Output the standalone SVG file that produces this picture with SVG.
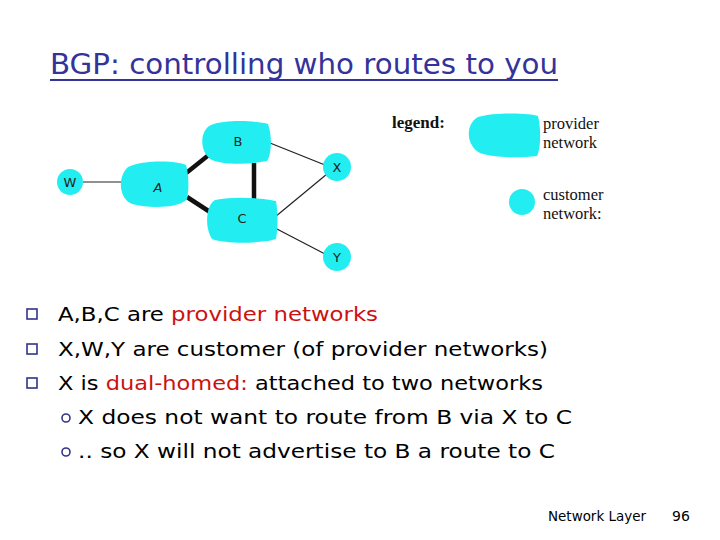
<svg xmlns="http://www.w3.org/2000/svg" width="720" height="540" viewBox="0 0 720 540">
<style>
.blob{fill:#22EEF2;}
.lbl{font-family:"DejaVu Sans",sans-serif;font-size:13px;fill:#222;text-anchor:middle;}
.thin{stroke:#222;stroke-width:1.2;fill:none;}
.thick{stroke:#111;stroke-width:4.5;fill:none;}
.leg{font-family:"Liberation Serif",serif;font-size:16.5px;fill:#111;}
.body{font-family:"DejaVu Sans",sans-serif;font-size:20px;fill:#000;}
.red{fill:#cc1111;}
.bul{fill:none;stroke:#333388;stroke-width:1.6;}
.foot{font-family:"DejaVu Sans",sans-serif;font-size:14px;fill:#000;}
</style>
<rect width="720" height="540" fill="#fff"/>
<g id="title">
<text x="50" y="74" font-family="DejaVu Sans, sans-serif" font-size="28" fill="#333399" textLength="508" lengthAdjust="spacingAndGlyphs">BGP: controlling who routes to you</text>
<line x1="50" y1="80" x2="558" y2="80" stroke="#333399" stroke-width="2"/>
</g>
<g id="connectors">
<line class="thin" x1="83" y1="182" x2="121" y2="182"/>
<line class="thick" x1="185" y1="174" x2="210" y2="154"/>
<line class="thick" x1="187" y1="197" x2="210" y2="212"/>
<line class="thick" x1="254" y1="163" x2="254" y2="199"/>
<line class="thin" x1="270" y1="143" x2="325" y2="165"/>
<line class="thin" x1="275" y1="217" x2="327" y2="174"/>
<line class="thin" x1="275" y1="228" x2="325" y2="254"/>
</g>
<g id="node-W"><circle class="blob" cx="70" cy="182" r="13"/><text class="lbl" x="70" y="187">W</text></g>
<g id="node-A"><path class="blob" d="M128 167 C142 160 176 160 186 165 C189 175 189 190 187 199 C180 208 150 209 132 204 C119 199 117 177 128 167 Z"/><text class="lbl" x="158" y="192" font-style="italic">A</text></g>
<g id="node-B"><path class="blob" d="M211 125 C226 119 259 121 268 124 C272 135 272 153 267 161 C247 165 222 165 210 159 C200 151 199 131 211 125 Z"/><text class="lbl" x="238" y="146">B</text></g>
<g id="node-C"><path class="blob" d="M215 200 C235 196 264 198 276 201 C278 212 278 228 276 239 C258 244 226 244 212 239 C205 229 205 206 215 200 Z"/><text class="lbl" x="242" y="223">C</text></g>
<g id="node-X"><circle class="blob" cx="337" cy="167" r="14"/><text class="lbl" x="337" y="172">X</text></g>
<g id="node-Y"><circle class="blob" cx="337" cy="257" r="14"/><text class="lbl" x="337" y="262">Y</text></g>
<g id="legend">
<text x="392" y="128" font-family="Liberation Serif, serif" font-size="17" font-weight="bold" fill="#111">legend:</text>
<path class="blob" d="M478 117 C495 112 530 113 538 116 C541 128 541 148 537 156 C520 158 495 158 480 153 C467 147 464 125 478 117 Z"/>
<text class="leg" x="543" y="129">provider</text>
<text class="leg" x="543" y="148">network</text>
<circle class="blob" cx="522" cy="202" r="13"/>
<text class="leg" x="543" y="200">customer</text>
<text class="leg" x="543" y="219">network:</text>
</g>
<g id="bullets">
<rect class="bul" x="27" y="309" width="10" height="10"/>
<rect class="bul" x="27" y="344" width="10" height="10"/>
<rect class="bul" x="27" y="378" width="10" height="10"/>
<circle class="bul" cx="66" cy="418" r="4"/>
<circle class="bul" cx="66" cy="452" r="4"/>
<text class="body" x="58" y="321" textLength="320" lengthAdjust="spacingAndGlyphs">A,B,C are <tspan class="red">provider networks</tspan></text>
<text class="body" x="58" y="356" textLength="490" lengthAdjust="spacingAndGlyphs">X,W,Y are customer (of provider networks)</text>
<text class="body" x="58" y="390" textLength="485" lengthAdjust="spacingAndGlyphs">X is <tspan class="red">dual-homed:</tspan> attached to two networks</text>
<text class="body" x="78" y="424" textLength="494" lengthAdjust="spacingAndGlyphs">X does not want to route from B via X to C</text>
<text class="body" x="78" y="458" textLength="477" lengthAdjust="spacingAndGlyphs">.. so X will not advertise to B a route to C</text>
</g>
<g id="footer">
<text class="foot" x="548" y="521" textLength="98" lengthAdjust="spacingAndGlyphs">Network Layer</text>
<text class="foot" x="672" y="521">96</text>
</g>
</svg>
